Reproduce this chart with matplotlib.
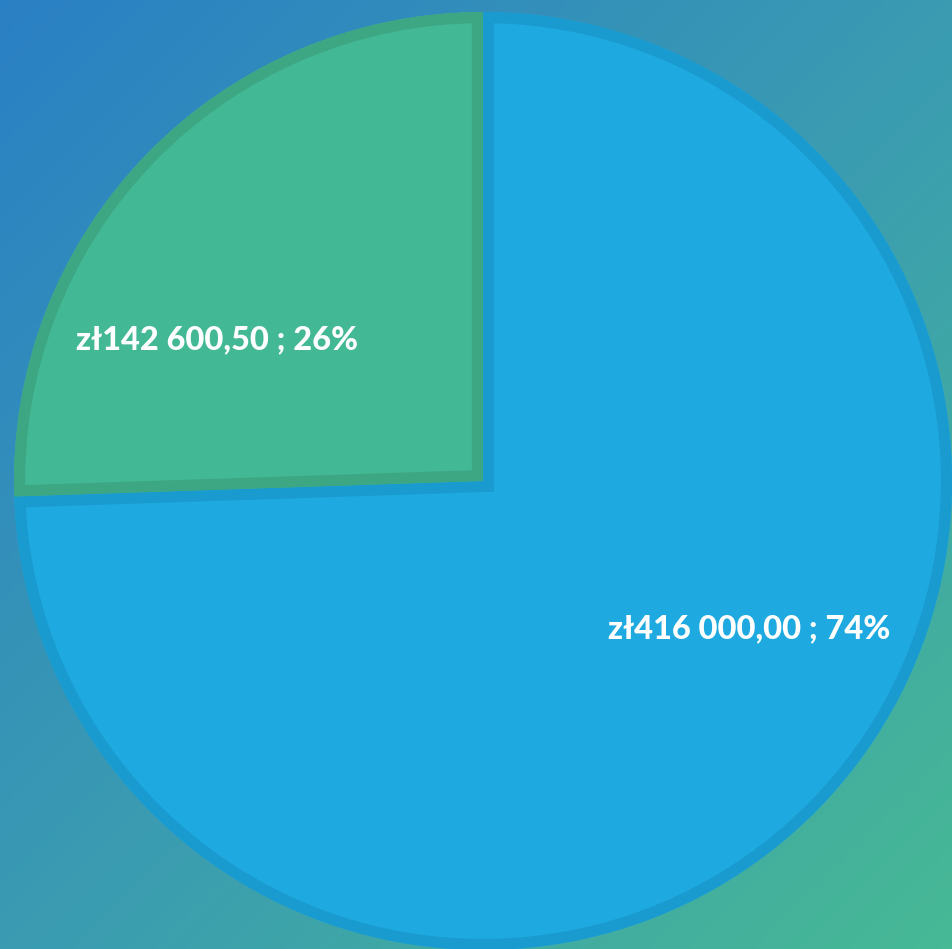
import matplotlib
matplotlib.use("Agg")
import matplotlib.pyplot as plt
import numpy as np
from matplotlib.colors import LinearSegmentedColormap
from matplotlib.patches import Wedge

categories = ["A", "B"]
values = [416000.00, 142600.50]
fill_colors = ["#1EAAE1", "#43B894"]
edge_colors = ["#1A9BD0", "#3DA784"]

W, H = 952, 949
fig = plt.figure(figsize=(W / 100, H / 100), dpi=100)
ax = fig.add_axes([0, 0, 1, 1])
ax.set_xlim(0, W)
ax.set_ylim(0, H)
ax.axis("off")

# diagonal gradient background
yy, xx = np.mgrid[0:1:200j, 0:1:200j]
t = (xx + yy) / 2.0
cmap = LinearSegmentedColormap.from_list("bg", ["#2A80C4", "#3A9BB2", "#47B995"])
ax.imshow(t, cmap=cmap, extent=[0, W, 0, H], origin="upper", aspect="auto", zorder=0)

cx, cy, r = 483, H - 481, 469
wedges, _ = ax.pie(values, colors=fill_colors, startangle=90, counterclock=False,
                   center=(cx, cy), radius=r, frame=True,
                   wedgeprops=dict(linewidth=0))
for w, ec in zip(wedges, edge_colors):
    w.set_zorder(2)
    e = Wedge(w.center, w.r, w.theta1, w.theta2, facecolor="none",
              edgecolor=ec, linewidth=16, zorder=3)
    ax.add_patch(e)
    e.set_clip_path(w)

ax.set_xlim(0, W)
ax.set_ylim(0, H)
ax.set_aspect("auto")
ax.axis("off")

total = sum(values)
def fmt(v):
    s = f"{v:,.2f}".replace(",", " ").replace(".", ",")
    return f"zł{s} ; {round(100 * v / total)}%"

for w, v in zip(wedges, values):
    mid = np.deg2rad((w.theta1 + w.theta2) / 2 + 15.5)
    d = 0.645 * r
    ax.text(cx + d * np.cos(mid), cy + d * np.sin(mid) - 3, fmt(v),
            ha="center", va="center", color="white", fontsize=23.5,
            fontweight="black", family="Lato", zorder=5)

fig.savefig("out.png", dpi=100)
